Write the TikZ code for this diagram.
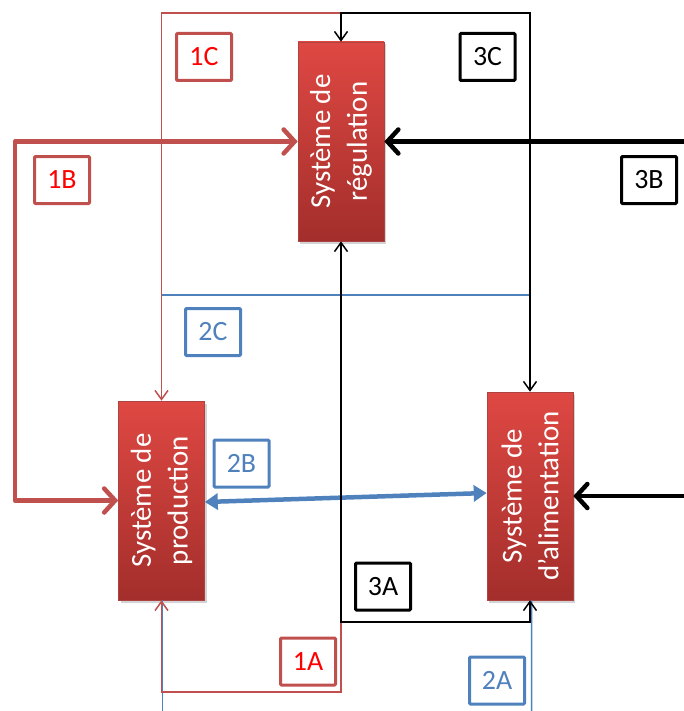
\documentclass[tikz,border=0pt]{standalone}
\usepackage{fontspec}
\setsansfont{Carlito}
\usetikzlibrary{arrows.meta,shadows}

\definecolor{rougeT}{HTML}{C0504D}
\definecolor{bleuT}{HTML}{4F81BD}
\definecolor{rougeHaut}{HTML}{DF4843}
\definecolor{rougeBas}{HTML}{A32E2B}

\begin{document}
\begin{tikzpicture}[
        x=1bp, y=-1bp,
        sysbox/.style={
            rectangle,
            top color=rougeHaut,
            bottom color=rougeBas,
            draw=rougeBas!90,
            line width=0.6bp,
            minimum width=86bp,
            drop shadow={shadow xshift=2bp, shadow yshift=-2.5bp, opacity=0.35}
        },
        systxt/.style={
            rotate=90,
            align=center,
            text=white,
            font=\sffamily\fontsize{29}{37}\selectfont
        },
        etiquette/.style={
            rectangle,
            fill=white,
            line width=3bp,
            rounded corners=1bp,
            minimum width=55bp,
            minimum height=47bp,
            font=\sffamily\fontsize{28}{33}\selectfont
        },
        fin/.style={line width=1.5bp},
        epais/.style={line width=4.5bp, line join=round, line cap=round},
        barbe/.tip={Straight Barb[length=9bp,width=13bp]},
        grosbarbe/.tip={Straight Barb[length=11bp,width=24bp,line cap=round]}
    ]
        \useasboundingbox (0,0) rectangle (684,711);
        \clip (0,0) rectangle (684,711);

        % Les trois systemes
        \node[sysbox, minimum height=199bp] (reg) at (341,141.5) {};
        \node[sysbox, minimum height=199bp] (prod) at (161.5,500.5) {};
        \node[sysbox, minimum height=208bp] (alim) at (530,496) {};
        \node[systxt] at (reg) {Système de\\régulation};
        \node[systxt] at (prod) {Système de\\production};
        \node[systxt] at (alim) {Système de\\d’alimentation};

        % Points de passage des liaisons
        \coordinate (hautN) at (341,13);
        \coordinate (basN) at (341,622);
        \coordinate (basR) at (341,692);
        \coordinate (gauche) at (15,141.5);
        \coordinate (droite) at (686,141.5);
        \coordinate (bas2g) at (162.5,711);
        \coordinate (bas2d) at (531.5,711);

        % Liaisons bleues (niveau 2)
        \draw[fin, bleuT] ([xshift=1bp]prod.south) -- (bas2g);
        \draw[fin, bleuT] ([xshift=1.5bp]alim.south) -- (bas2d);
        \draw[fin, bleuT] (prod.north |- 0,295) -- (alim.north |- 0,295);
        \draw[epais, bleuT, line cap=butt, {Triangle[length=13bp,width=16bp]}-{Triangle[length=13bp,width=16bp]}]
            ([yshift=-1.5bp]prod.east) -- ([yshift=3bp]alim.west);

        % Liaisons rouges (niveau 1)
        \draw[fin, rougeT, barbe-] (prod.north) |- (hautN);
        \draw[fin, rougeT, barbe-] (prod.south) |- (basR) -- (basN);
        \draw[epais, rougeT, grosbarbe-grosbarbe] (reg.west) -- (gauche) |- (prod.west);

        % Liaisons noires (niveau 3)
        \draw[fin, barbe-barbe] (reg.north) -- (hautN) -| (alim.north);
        \draw[fin, barbe-barbe] (reg.south) -- (basN) -| (alim.south);
        \draw[epais, grosbarbe-grosbarbe] (reg.east) -- (droite) |- (alim.east);

        % Etiquettes
        \foreach \lab/\px/\py/\coul/\texte in {
                1C/204/57/rougeT/red, 3C/487.5/57/black/black,
                1B/62/180/rougeT/red, 3B/649/180/black/black,
                2C/213/332/bleuT/bleuT, 2B/241.5/463.5/bleuT/bleuT,
                3A/383/586.5/black/black, 1A/308/661.5/rougeT/red,
                2A/497/680.5/bleuT/bleuT} {
            \node[etiquette, draw=\coul, text=\texte] (e\lab) at (\px,\py) {\lab};
        }
    \end{tikzpicture}
\end{document}
